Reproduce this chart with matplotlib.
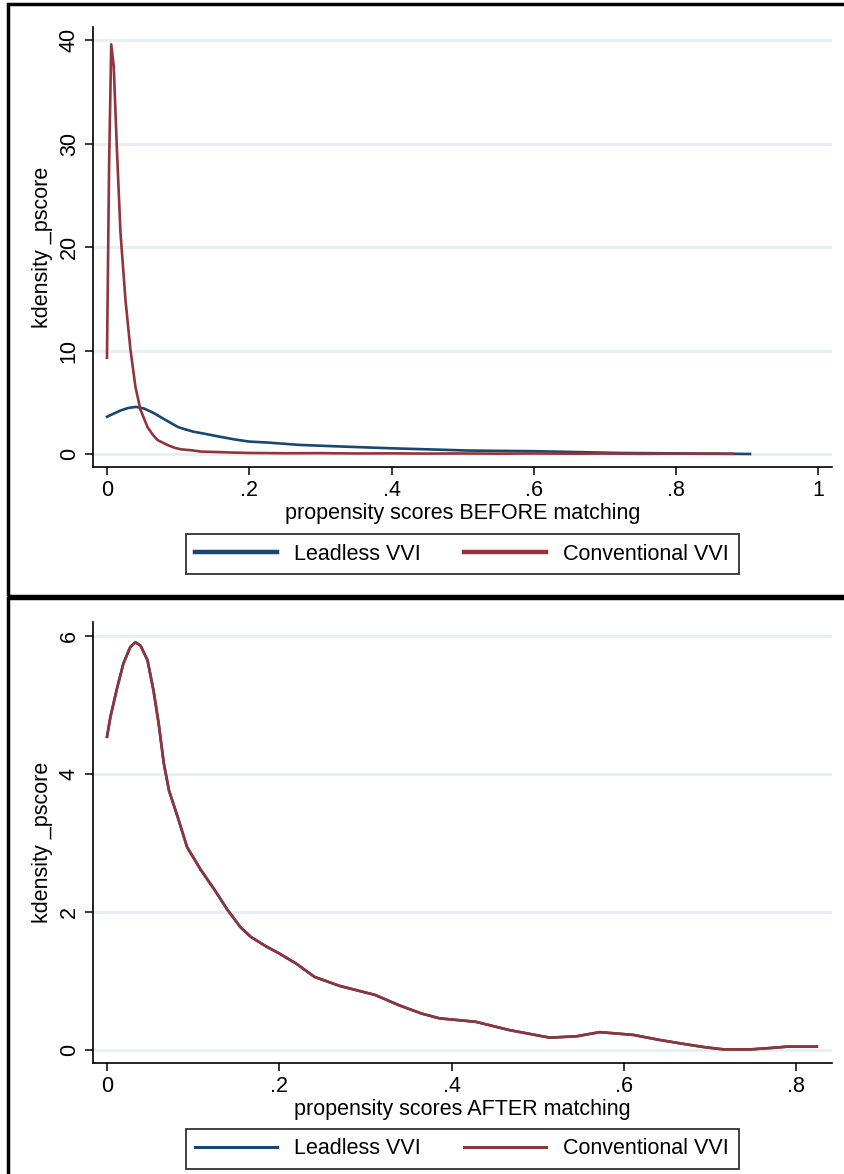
import matplotlib
matplotlib.use("Agg")
import matplotlib.pyplot as plt
from matplotlib.patches import Rectangle
from matplotlib.lines import Line2D

plt.rcParams['font.family'] = ['Liberation Sans', 'DejaVu Sans']

# kernel density of propensity scores
before_lead_x = [0.0, 0.019, 0.03, 0.041, 0.052, 0.066, 0.082, 0.1, 0.109, 0.122, 0.134,
                 0.16, 0.18, 0.2, 0.227, 0.27, 0.33, 0.4, 0.51, 0.6, 0.65, 0.72, 0.8,
                 0.86, 0.904]
before_lead_y = [3.6, 4.2, 4.45, 4.55, 4.4, 3.95, 3.3, 2.6, 2.4, 2.15, 2.0,
                 1.65, 1.4, 1.2, 1.1, 0.88, 0.72, 0.55, 0.33, 0.27, 0.2, 0.1, 0.06,
                 0.03, 0.0]

before_conv_x = [0.0, 0.003, 0.006, 0.0095, 0.014, 0.019, 0.026, 0.033, 0.040, 0.047,
                 0.057, 0.064, 0.071, 0.085, 0.095, 0.104, 0.12, 0.132, 0.15, 0.18,
                 0.2, 0.25, 0.3, 0.35, 0.4, 0.45, 0.5, 0.55, 0.6, 0.65, 0.7, 0.75,
                 0.8, 0.85, 0.88]
before_conv_y = [9.3, 28.0, 39.6, 37.5, 29.4, 21.4, 14.9, 10.1, 6.5, 4.3,
                 2.6, 1.9, 1.35, 0.87, 0.6, 0.45, 0.35, 0.23, 0.2, 0.13,
                 0.1, 0.07, 0.08, 0.05, 0.06, 0.04, 0.05, 0.03, 0.05, 0.03, 0.04, 0.02,
                 0.03, 0.02, 0.02]

after_x = [0.0, 0.004, 0.012, 0.019, 0.027, 0.033, 0.039, 0.047, 0.054, 0.06, 0.066,
           0.072, 0.082, 0.093, 0.109, 0.125, 0.14, 0.155, 0.167, 0.185, 0.2, 0.22,
           0.241, 0.27, 0.311, 0.339, 0.365, 0.386, 0.428, 0.467, 0.514, 0.545,
           0.572, 0.611, 0.64, 0.669, 0.695, 0.716, 0.747, 0.77, 0.79, 0.824]
after_conv = [4.54, 4.83, 5.26, 5.6, 5.84, 5.91, 5.86, 5.65, 5.21, 4.73, 4.15,
              3.76, 3.38, 2.94, 2.61, 2.32, 2.03, 1.78, 1.64, 1.5, 1.4, 1.25,
              1.06, 0.93, 0.8, 0.65, 0.53, 0.46, 0.41, 0.29, 0.18, 0.2,
              0.26, 0.22, 0.15, 0.09, 0.04, 0.01, 0.01, 0.03, 0.05, 0.05]
after_lead = after_conv

before_xticks = [0, 0.2, 0.4, 0.6, 0.8, 1.0]
before_xlabels = ['0', '.2', '.4', '.6', '.8', '1']
before_yticks = [0, 10, 20, 30, 40]
after_xticks = [0, 0.2, 0.4, 0.6, 0.8]
after_xlabels = ['0', '.2', '.4', '.6', '.8']
after_yticks = [0, 2, 4, 6]

blue = '#1a476f'
red = '#90353b'
grid_col = '#e6eff1'

fig = plt.figure(figsize=(8.45, 11.74), dpi=100)

# outer frames of the two panels
fig.add_artist(Rectangle((0.010, 0.492), 1.2, 0.505, transform=fig.transFigure,
                         fill=False, lw=2.5, ec='black'))
fig.add_artist(Rectangle((0.010, -0.1), 1.2, 0.591, transform=fig.transFigure,
                         fill=False, lw=2.5, ec='black'))


def style(ax, xticks, xlabels, yticks, xlabel):
    for s in ['top', 'right']:
        ax.spines[s].set_visible(False)
    ax.spines['left'].set_linewidth(1.2)
    ax.spines['bottom'].set_linewidth(1.2)
    ax.set_xticks(xticks)
    ax.set_xticklabels(xlabels)
    ax.set_yticks(yticks)
    ax.set_yticklabels([str(v) for v in yticks], rotation=90, va='center')
    ax.tick_params(labelsize=15.5, length=6, width=1.1, colors='black')
    for v in yticks:
        ax.axhline(v, color=grid_col, lw=2, zorder=0)
    ax.set_xlabel(xlabel, fontsize=15.5, labelpad=1)
    ax.set_ylabel('kdensity _pscore', fontsize=15.5, labelpad=4)


ax1 = fig.add_axes([0.110, 0.6022, 0.875, 0.375])
ax1.plot(before_lead_x, before_lead_y, color=blue, lw=1.9)
ax1.plot(before_conv_x, before_conv_y, color=red, lw=1.9)
ax1.set_xlim(-0.0197, 1.0197)
ax1.set_ylim(-1.26, 41.3)
style(ax1, before_xticks, before_xlabels, before_yticks,
      'propensity scores BEFORE matching')

ax2 = fig.add_axes([0.110, 0.0945, 0.875, 0.3755])
ax2.plot(after_x, after_lead, color=blue, lw=1.9)
ax2.plot(after_x, after_conv, color=red, lw=1.9)
ax2.set_xlim(-0.0163, 0.842)
ax2.set_ylim(-0.188, 6.2)
style(ax2, after_xticks, after_xlabels, after_yticks,
      'propensity scores AFTER matching')

for yc, lw in [(0.528, 3.2), (0.0213, 2.2)]:
    handles = [Line2D([], [], color=blue, lw=lw), Line2D([], [], color=red, lw=lw)]
    leg = fig.legend(handles, ['Leadless VVI', 'Conventional VVI'], loc='center',
                     bbox_to_anchor=(0.547, yc), ncol=2, fontsize=15.5,
                     handlelength=3.8, columnspacing=2.0, handletextpad=0.8,
                     fancybox=False, edgecolor='black', borderpad=0.45,
                     borderaxespad=0)
    leg.get_frame().set_linewidth(1.3)

fig.savefig('out.png', dpi=100)
